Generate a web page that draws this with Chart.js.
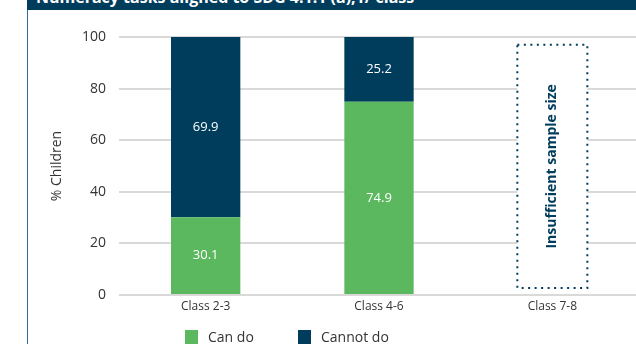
<!DOCTYPE html>
<html>
<head>
<meta charset="utf-8">
<script src="https://cdn.jsdelivr.net/npm/chart.js@4"></script>
<style>
    html, body { margin: 0; padding: 0; background: #fff; }
    body { width: 636px; height: 344px; overflow: hidden; position: relative; font-family: "Open Sans", sans-serif; }
    #band { position: absolute; left: 27px; top: 0; right: 0; height: 10px; background: #003d5c; overflow: hidden; }
    #band span { position: absolute; left: 9px; top: -13px; color: #fff; font-weight: bold; font-size: 16px; line-height: 20px; white-space: nowrap; }
    #edge { position: absolute; left: 27px; top: 10px; width: 1px; bottom: 0; background: #2f6c9b; }
    #chart { position: absolute; left: 0; top: 0; }
    #legend { position: absolute; top: 330px; left: 0; width: 636px; height: 20px; }
    .item { position: absolute; top: 0; font-size: 14px; color: #333; line-height: 16px; }
    .item i { position: absolute; top: 0; left: 0; width: 13px; height: 14px; }
    .item span { position: absolute; left: 23px; top: -1px; white-space: nowrap; }
</style>
</head>
<body>
<div id="band"><span>Numeracy tasks aligned to SDG 4.1.1 (a),1/ class</span></div>
<div id="edge"></div>
<canvas id="chart" width="645" height="344"></canvas>
<div id="legend">
    <div class="item" style="left:185px"><i style="background:#5cb85f"></i><span>Can do</span></div>
    <div class="item" style="left:298px"><i style="background:#003d5c"></i><span>Cannot do</span></div>
</div>
<script>
const classes = ["Class 2-3", "Class 4-6", "Class 7-8"];
const canDo = [30.1, 74.9, null];
const cannotDo = [69.9, 25.2, null];
const yTicks = [0, 20, 40, 60, 80, 100];
const noDataClass = "Class 7-8";
const noDataText = "Insufficient sample size";

const GREEN = "#5cb85f";
const NAVY = "#003d5c";

// white value labels inside each stacked segment
const segmentLabels = {
    id: "segmentLabels",
    afterDatasetsDraw(chart) {
        const ctx = chart.ctx;
        ctx.save();
        ctx.fillStyle = "#fff";
        ctx.font = "13px 'Open Sans'";
        ctx.textAlign = "center";
        ctx.textBaseline = "middle";
        chart.data.datasets.forEach((ds, i) => {
            chart.getDatasetMeta(i).data.forEach((bar, j) => {
                const v = ds.data[j];
                if (v == null) return;
                const mid = (bar.y + bar.base) / 2;
                ctx.fillText(v.toFixed(1), bar.x, mid);
            });
        });
        ctx.restore();
    }
};

// dotted box for the class without enough data
const noDataBox = {
    id: "noDataBox",
    afterDatasetsDraw(chart) {
        const { ctx, scales } = chart;
        const cx = scales.x.getPixelForValue(classes.indexOf(noDataClass));
        const top = scales.y.getPixelForValue(97);
        const bottom = scales.y.getPixelForValue(2.7);
        const w = 70;
        ctx.save();
        ctx.fillStyle = "#fff";
        ctx.fillRect(cx - w / 2, top, w, bottom - top);
        ctx.strokeStyle = NAVY;
        ctx.lineWidth = 2;
        ctx.setLineDash([2, 4.5]);
        ctx.strokeRect(cx - w / 2, top, w, bottom - top);
        ctx.setLineDash([]);
        ctx.translate(cx, (top + bottom) / 2);
        ctx.rotate(-Math.PI / 2);
        ctx.fillStyle = NAVY;
        ctx.font = "bold 14px 'Open Sans'";
        ctx.textAlign = "center";
        ctx.textBaseline = "middle";
        ctx.fillText(noDataText, 0, 0);
        ctx.restore();
    }
};

new Chart(document.getElementById("chart").getContext("2d"), {
    type: "bar",
    data: {
        labels: classes,
        datasets: [
            { label: "Can do", data: canDo, backgroundColor: GREEN },
            { label: "Cannot do", data: cannotDo, backgroundColor: NAVY }
        ]
    },
    options: {
        responsive: false,
        animation: false,
        layout: { padding: { left: 0, right: 6, top: 37, bottom: 29 } },
        datasets: { bar: { barPercentage: 0.4, categoryPercentage: 1 } },
        plugins: { legend: { display: false }, tooltip: { enabled: false } },
        scales: {
            x: {
                stacked: true,
                grid: { display: false, drawTicks: false },
                border: { display: false },
                ticks: { color: "#333", font: { family: "Open Sans", size: 12 }, padding: 4 },
                afterFit: (s) => { s.height = 20; }
            },
            y: {
                stacked: true,
                min: 0,
                max: 100,
                afterBuildTicks: (s) => { s.ticks = yTicks.map((v) => ({ value: v })); },
                grid: { color: "#d9d9d9", lineWidth: 2, drawTicks: false },
                border: { display: false },
                ticks: { color: "#333", font: { family: "Open Sans", size: 14 }, padding: 13 },
                title: {
                    display: true,
                    text: "% Children",
                    color: "#333",
                    font: { family: "Open Sans", size: 14 },
                    padding: { top: 49, bottom: 0 }
                },
                afterFit: (s) => { s.width = 119; }
            }
        }
    },
    plugins: [segmentLabels, noDataBox]
});
</script>
</body>
</html>
